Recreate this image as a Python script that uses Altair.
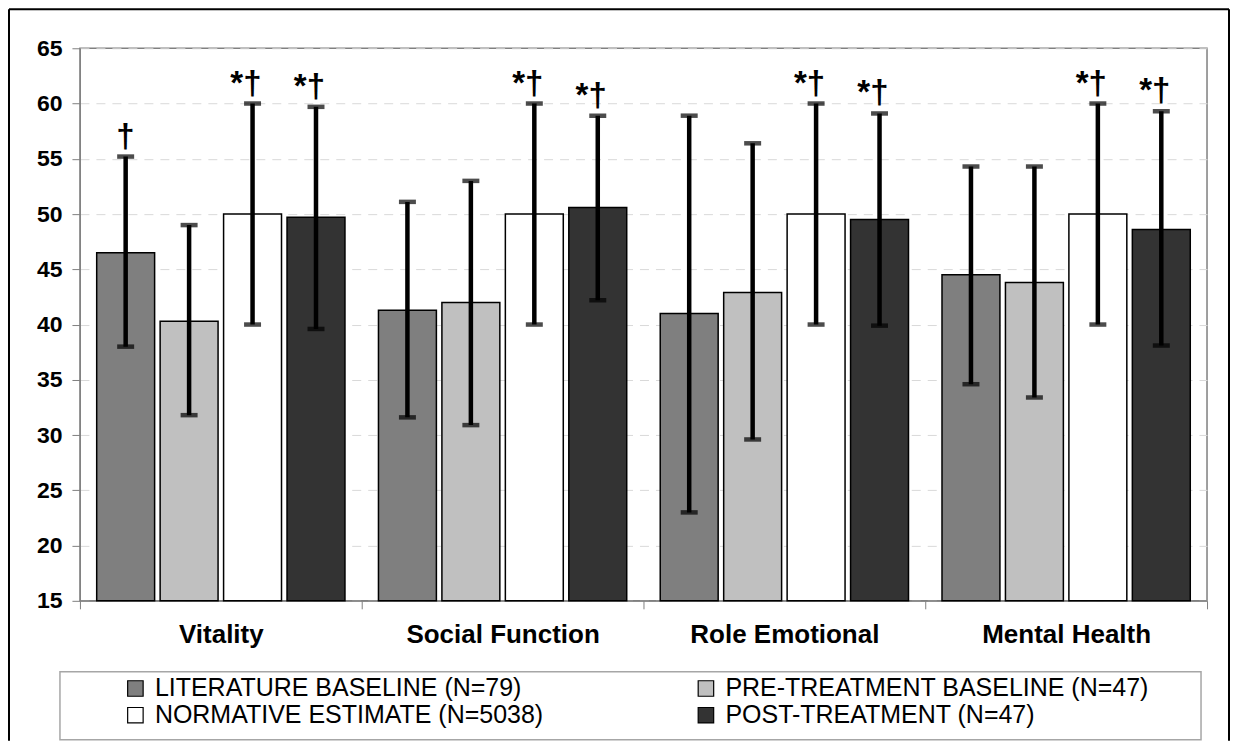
import altair as alt
import pandas as pd

categories = ["Vitality", "Social Function", "Role Emotional", "Mental Health"]
series = [
    "LITERATURE BASELINE (N=79)",
    "PRE-TREATMENT BASELINE (N=47)",
    "NORMATIVE ESTIMATE (N=5038)",
    "POST-TREATMENT (N=47)",
]
fills = ["#7f7f7f", "#c0c0c0", "#ffffff", "#333333"]
# legend reads row by row: LIT | PRE, then NORM | POST
legend_order = [series[0], series[2], series[1], series[3]]
legend_fills = [fills[0], fills[2], fills[1], fills[3]]

lit_mean = [46.5, 41.3, 41.0, 44.5]
lit_low = [38.0, 31.6, 23.0, 34.6]
lit_high = [55.2, 51.1, 58.9, 54.3]
lit_mark = ["\u2020", "", "", ""]

pre_mean = [40.3, 42.0, 42.9, 43.8]
pre_low = [31.8, 30.9, 29.6, 33.4]
pre_high = [49.0, 53.0, 56.4, 54.3]
pre_mark = ["", "", "", ""]

norm_mean = [50.0, 50.0, 50.0, 50.0]
norm_low = [40.0, 40.0, 40.0, 40.0]
norm_high = [60.0, 60.0, 60.0, 60.0]
norm_mark = ["*\u2020", "*\u2020", "*\u2020", "*\u2020"]

post_mean = [49.7, 50.6, 49.5, 48.6]
post_low = [39.6, 42.2, 39.9, 38.1]
post_high = [59.7, 58.9, 59.1, 59.3]
post_mark = ["*\u2020", "*\u2020", "*\u2020", "*\u2020"]

y_ticks = [15, 20, 25, 30, 35, 40, 45, 50, 55, 60, 65]

rows = []
for s, m, lo, hi, mk in [
    (series[0], lit_mean, lit_low, lit_high, lit_mark),
    (series[1], pre_mean, pre_low, pre_high, pre_mark),
    (series[2], norm_mean, norm_low, norm_high, norm_mark),
    (series[3], post_mean, post_low, post_high, post_mark),
]:
    for i, c in enumerate(categories):
        rows.append({"category": c, "series": s, "value": m[i],
                     "low": lo[i], "high": hi[i], "mark": mk[i]})
df = pd.DataFrame(rows)

W, H = 1128, 553
FONT = "Liberation Sans"

x_enc = alt.X(
    "category:N", sort=categories,
    scale=alt.Scale(paddingInner=0, paddingOuter=0),
    axis=alt.Axis(title=None, labelAngle=0, labelFont=FONT, labelFontSize=26,
                  labelFontWeight="bold", labelColor="black", labelPadding=13,
                  labelLimit=400, tickBand="extent", tickSize=8,
                  tickColor="#808080", domainColor="#808080", grid=False),
)
xo_enc = alt.XOffset("series:N", sort=series,
                     scale=alt.Scale(paddingInner=0.087, paddingOuter=0.264))
y_scale = alt.Scale(domain=[15, 65], nice=False, zero=False)

base = alt.Chart(df)

bars = base.mark_bar(stroke="black", strokeWidth=1.5).encode(
    x=x_enc,
    xOffset=xo_enc,
    y=alt.Y("value:Q", scale=y_scale,
            axis=alt.Axis(title=None, values=y_ticks, labelFont=FONT,
                          labelFontSize=23, labelFontWeight="bold",
                          labelColor="black", labelPadding=10, tickSize=8,
                          tickColor="#808080", domainColor="#808080",
                          gridColor="#d9d9d9", gridDash=[9, 7], gridWidth=1)),
    y2=alt.datum(15),
    fill=alt.Fill("series:N",
                  scale=alt.Scale(domain=legend_order, range=legend_fills),
                  legend=alt.Legend(title=None, orient="none", legendX=43,
                                    legendY=628, columns=2, columnPadding=150,
                                    rowPadding=1, labelFont=FONT,
                                    labelFontSize=25, labelColor="black",
                                    labelOffset=7, labelLimit=700,
                                    symbolType="square", symbolSize=240,
                                    symbolStrokeColor="black",
                                    symbolStrokeWidth=1.2)),
)

err = base.mark_rule(color="black", strokeWidth=4.5).encode(
    x=alt.X("category:N", sort=categories), xOffset=xo_enc,
    y="low:Q", y2="high:Q",
)
cap_hi = base.mark_tick(color="black", size=17, thickness=4.5).encode(
    x=alt.X("category:N", sort=categories), xOffset=xo_enc, y="high:Q",
)
cap_lo = base.mark_tick(color="black", size=17, thickness=4.5).encode(
    x=alt.X("category:N", sort=categories), xOffset=xo_enc, y="low:Q",
)
labels = base.mark_text(align="right", baseline="alphabetic", dx=9, dy=-10,
                        font=FONT, fontSize=33, fontWeight="bold",
                        color="black").encode(
    x=alt.X("category:N", sort=categories), xOffset=xo_enc,
    y="high:Q", text="mark:N",
)

deco = alt.Chart(pd.DataFrame({"k": [0]}))
frame_left = deco.mark_rule(color="black", strokeWidth=2).encode(
    x=alt.value(-71), y=alt.value(-39), y2=alt.value(693))
frame_right = deco.mark_rule(color="black", strokeWidth=2).encode(
    x=alt.value(W + 22), y=alt.value(-39), y2=alt.value(693))
frame_top = deco.mark_rule(color="black", strokeWidth=2).encode(
    x=alt.value(-71), x2=alt.value(W + 22), y=alt.value(-39))
legend_box = deco.mark_rect(fillOpacity=0, stroke="#a6a6a6",
                            strokeWidth=1.5).encode(
    x=alt.value(-20), x2=alt.value(1122), y=alt.value(624), y2=alt.value(692))

chart = alt.layer(
    frame_left, frame_right, frame_top, legend_box,
    bars, err, cap_hi, cap_lo, labels,
).properties(width=W, height=H, padding=0).configure_view(
    stroke="#808080", strokeWidth=1.5
)

chart.save("out.html", embed_options={"renderer": "svg", "actions": False})
